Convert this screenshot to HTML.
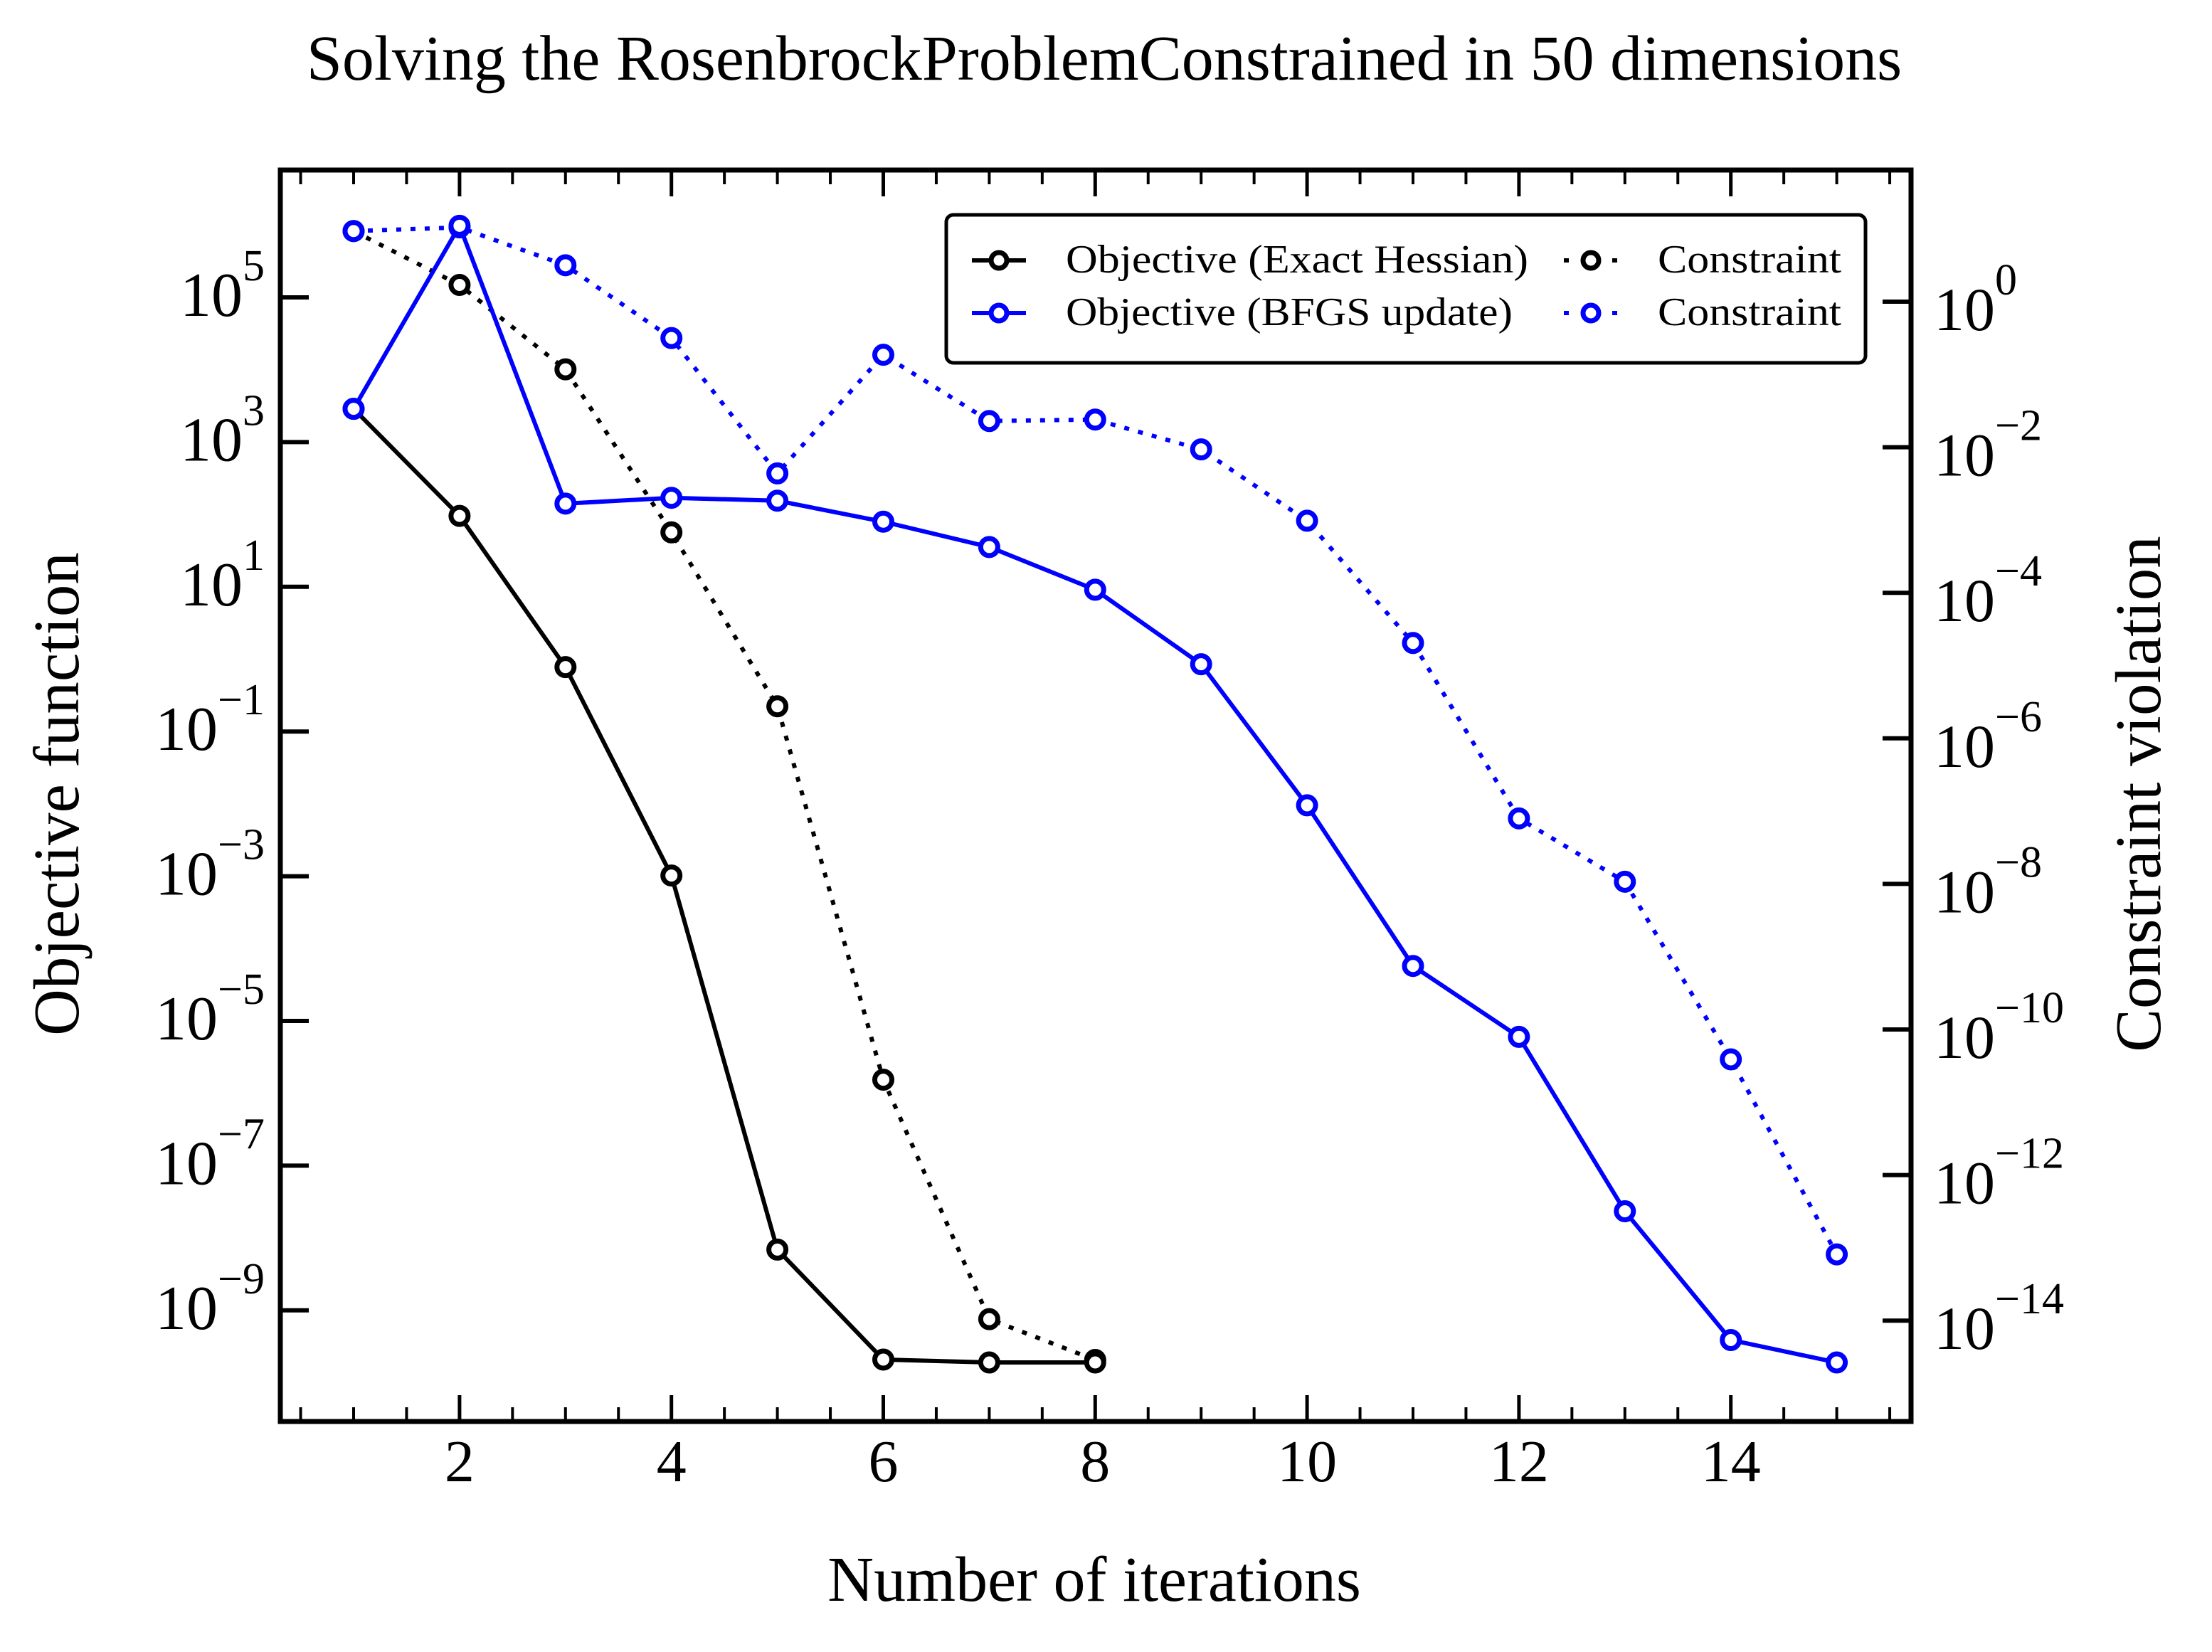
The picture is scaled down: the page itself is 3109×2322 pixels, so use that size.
<!DOCTYPE html>
<html><head><meta charset="utf-8"><style>
html,body{margin:0;padding:0;background:#fff}
svg{display:block}
text{font-family:"Liberation Serif",serif;fill:#000}
</style></head><body>
<svg id="chart" width="3109" height="2322" viewBox="0 0 3109 2322" xmlns="http://www.w3.org/2000/svg">
<rect width="3109" height="2322" fill="#fff"/>
<text x="1552" y="112" font-size="90" text-anchor="middle">Solving the RosenbrockProblemConstrained in 50 dimensions</text>
<text x="1538" y="2250" font-size="90" text-anchor="middle">Number of iterations</text>
<text transform="translate(110,1116) rotate(-90)" font-size="91" text-anchor="middle">Objective function</text>
<text transform="translate(3036,1116) rotate(-90)" font-size="91" text-anchor="middle">Constraint violation</text>
<g id="plot"></g>
</svg>
<script>
const iterExact=[1,2,3,4,5,6,7,8];
const objExact=[3.46,1.98,-0.11,-2.99,-8.16,-9.68,-9.72,-9.72];
const conExact=[0.97,0.23,-0.93,-3.17,-5.56,-10.69,-13.98,-14.54];
const iterBFGS=[1,2,3,4,5,6,7,8,9,10,11,12,13,14,15];
const objBFGS=[3.46,5.99,2.15,2.23,2.19,1.90,1.55,0.96,-0.07,-2.02,-4.24,-5.22,-7.63,-9.41,-9.72];
const conBFGS=[0.97,1.02,0.50,-0.50,-2.36,-0.73,-1.64,-1.62,-2.03,-3.01,-4.69,-7.10,-7.97,-10.41,-13.09];
const xTicks=[2,4,6,8,10,12,14];
const leftExps=[5,3,1,-1,-3,-5,-7,-9];
const rightExps=[0,-2,-4,-6,-8,-10,-12,-14];

const L=394,R=2686,T=239,B=1998;
const X=v=>497+(v-1)*148.9;
const YL=lg=>418+(5-lg)*101.7;
const YR=lg=>424+(0-lg)*102.3;
const NS="http://www.w3.org/2000/svg";
const g=document.getElementById('plot');
function mk(tag,at,parent){const e=document.createElementNS(NS,tag);for(const k in at)e.setAttribute(k,at[k]);(parent||g).appendChild(e);return e;}

for(let i=1;i<=31;i++){
  const v=i*0.5;
  const major=xTicks.includes(v);
  const len=major?37:20;
  let t=mk('line',{x1:X(v),x2:X(v),y1:B,y2:B-len,stroke:'#000','stroke-width':major?5:4});
  
  
  t=mk('line',{x1:X(v),x2:X(v),y1:T,y2:T+len,stroke:'#000','stroke-width':major?5:4});
  
  
}
xTicks.forEach(v=>{
  const t=mk('text',{x:X(v),y:2082,'font-size':84,'text-anchor':'middle'});
  t.textContent=v;
  
  
});
leftExps.forEach(e=>{
  const y=YL(e);
  const tk=mk('line',{x1:L,x2:L+40,y1:y,y2:y,stroke:'#000','stroke-width':6});
  
  
  const t=mk('text',{x:372,y:y+26,'font-size':88,'text-anchor':'end'});
  
  
  const a=mk('tspan',{},t);a.textContent='10';
  const b=mk('tspan',{dy:-50,'font-size':62},t);b.textContent=(e<0?'\u2212':'')+Math.abs(e);
});
rightExps.forEach(e=>{
  const y=YR(e);
  const tk=mk('line',{x1:R,x2:R-40,y1:y,y2:y,stroke:'#000','stroke-width':6});
  
  
  const t=mk('text',{x:2718,y:y+40,'font-size':86});
  
  
  const a=mk('tspan',{},t);a.textContent='10';
  const b=mk('tspan',{dy:-50,'font-size':62},t);b.textContent=(e<0?'\u2212':'')+Math.abs(e);
});
const frame=mk('rect',{x:L,y:T,width:R-L,height:B-T,fill:'none',stroke:'#000','stroke-width':7});



function series(xs,ys,yf,color,dotted,name){
  const pts=xs.map((x,i)=>X(x)+','+yf(ys[i])).join(' ');
  const at={points:pts,fill:'none',stroke:color,'stroke-width':6,'stroke-linejoin':'round'};
  if(dotted){at['stroke-dasharray']='7 13';}
  const p=mk('polyline',at);
  
  
  xs.forEach((x,i)=>{
    const c=mk('circle',{cx:X(x),cy:yf(ys[i]),r:12,fill:'#fff',stroke:color,'stroke-width':7});
    
    
  });
}
series(iterExact,conExact,YR,'#000',true,'constraint-exact');
series(iterBFGS,conBFGS,YR,'#00f',true,'constraint-bfgs');
series(iterExact,objExact,YL,'#000',false,'objective-exact');
series(iterBFGS,objBFGS,YL,'#00f',false,'objective-bfgs');

const lg=mk('g',{});


const box=mk('rect',{x:1330,y:302,width:1292,height:208,rx:10,fill:'#fff',stroke:'#000','stroke-width':5},lg);


const entries=[
 {x:1366,y:366,c:'#000',d:false,t:'Objective (Exact Hessian)',w:650},
 {x:1366,y:440,c:'#00f',d:false,t:'Objective (BFGS update)',w:628},
 {x:2198,y:366,c:'#000',d:true,t:'Constraint',w:258},
 {x:2198,y:440,c:'#00f',d:true,t:'Constraint',w:258}];
entries.forEach(en=>{
  const e=mk('g',{},lg);
  
  
  const la={x1:en.x,x2:en.x+76,y1:en.y,y2:en.y,stroke:en.c,'stroke-width':6};
  if(en.d)la['stroke-dasharray']='7 27';
  mk('line',la,e);
  mk('circle',{cx:en.x+38,cy:en.y,r:11,fill:'#fff',stroke:en.c,'stroke-width':7},e);
  const t=mk('text',{x:en.x+132,y:en.y+17,'font-size':56,textLength:en.w,lengthAdjust:'spacingAndGlyphs'},e);
  t.textContent=en.t;
});
</script>
</body></html>
